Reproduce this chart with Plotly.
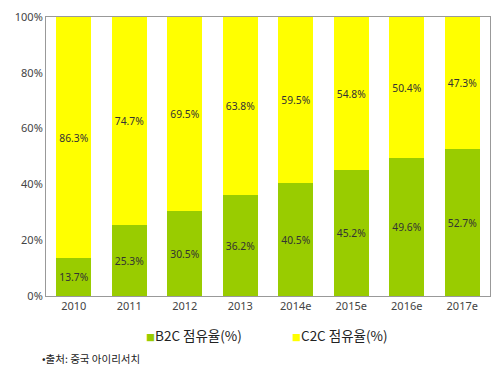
import plotly.graph_objects as go

years = ["2010", "2011", "2012", "2013", "2014e", "2015e", "2016e", "2017e"]
b2c = [13.7, 25.3, 30.5, 36.2, 40.5, 45.2, 49.6, 52.7]
c2c = [86.3, 74.7, 69.5, 63.8, 59.5, 54.8, 50.4, 47.3]
y_ticks = [0, 20, 40, 60, 80, 100]
y_tick_labels = ["0%", "20%", "40%", "60%", "80%", "100%"]
series_names = ["B2C 점유율(%)", "C2C 점유율(%)"]
series_colors = ["#99CC00", "#FFFF00"]
source_text = "•출처: 중국 아이리서치"

font_main = "Century Gothic, URW Gothic, Noto Sans, sans-serif"
font_kr = "Noto Sans CJK KR, sans-serif"

fig = go.Figure()
for vals, name, col in zip([b2c, c2c], series_names, series_colors):
    fig.add_trace(go.Bar(
        x=years, y=vals, name=name,
        marker=dict(color=col, line=dict(width=0)),
        text=[f"{v:.1f}%" for v in vals], textposition="inside",
        insidetextanchor="middle", textangle=0,
        textfont=dict(size=11, color="#333333", family=font_main),
        hoverinfo="skip",
    ))

legend_annots = []
legend_x = [0.22, 0.55]
for name, col, lx in zip(series_names, series_colors, legend_x):
    legend_annots.append(dict(
        text=f"<span style='color:{col};font-size:9px'>■</span>{name}",
        xref="paper", yref="paper", x=lx, y=-0.14, xanchor="left", yanchor="middle",
        showarrow=False, font=dict(size=13.5, color="#222222", family=font_kr),
    ))

fig.update_layout(
    barmode="stack",
    bargap=0.37,
    width=500, height=367,
    margin=dict(l=46, r=9, t=11, b=71),
    plot_bgcolor="white", paper_bgcolor="white",
    showlegend=False,
    xaxis=dict(
        showline=True, linecolor="#999999", linewidth=1, mirror=True,
        tickfont=dict(size=11, color="#444444", family=font_main),
        ticks="", showgrid=False,
    ),
    yaxis=dict(
        range=[0, 100], tickvals=y_ticks, ticktext=y_tick_labels,
        showline=True, linecolor="#999999", linewidth=1, mirror=True,
        tickfont=dict(size=11, color="#444444", family=font_main),
        ticks="", showgrid=False, zeroline=False,
    ),
    annotations=legend_annots + [dict(
        text=source_text, xref="paper", yref="paper",
        x=-0.013, y=-0.225, xanchor="left", yanchor="middle", showarrow=False,
        font=dict(size=10.5, color="#222222", family=font_kr),
    )],
)

fig.write_html("out.html", config={"displayModeBar": False},
               post_script="document.body.style.margin='0';")
